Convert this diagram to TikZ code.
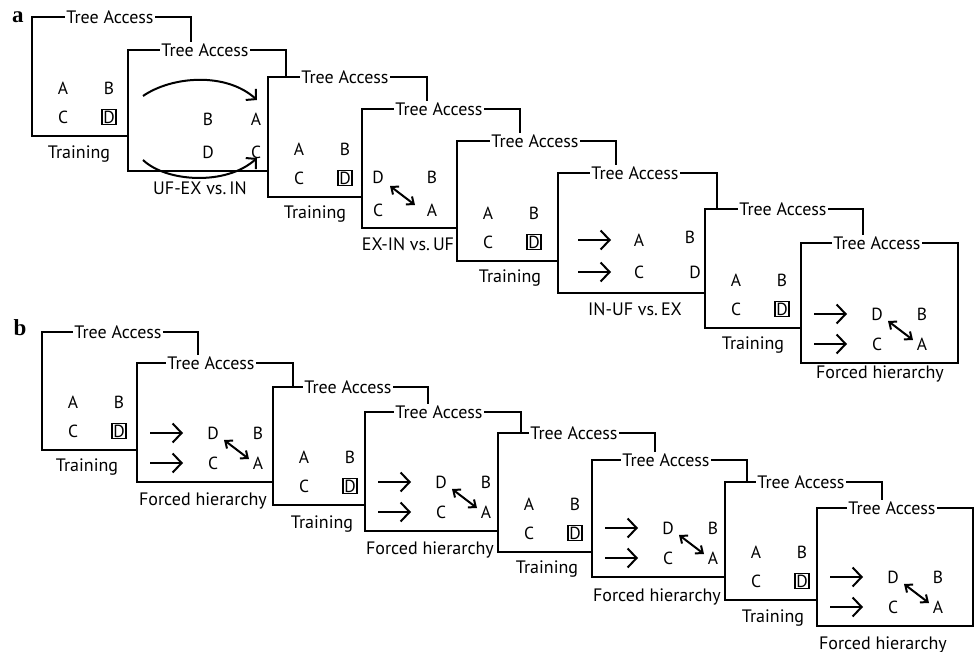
\documentclass[tikz,border=0pt]{standalone}
\usepackage{fontspec}
\setmainfont{PT Sans}
\newfontfamily\lblfont{Liberation Serif}
\usetikzlibrary{arrows.meta}
\tikzset{
  panel/.style={line width=1.8pt, fill=white},
  ta/.style={fill=white, inner sep=1.5pt, font=\fontsize{18}{18}\selectfont},
  lt/.style={inner sep=0pt, font=\fontsize{17.5}{17.5}\selectfont},
  boxd/.style={draw, line width=1.2pt, inner sep=1.2pt},
  lab/.style={anchor=base, inner sep=0pt, font=\fontsize{18}{18}\selectfont},
  farr/.style={line width=2pt, -{Straight Barb[length=9pt,width=19pt]}},
  darr/.style={line width=2pt, {Straight Barb[length=6pt,width=10pt]}-{Straight Barb[length=6pt,width=10pt]}},
  carr/.style={line width=2pt, -{Straight Barb[length=7pt,width=15pt]}},
  sec/.style={font=\lblfont\bfseries\fontsize{23}{23}\selectfont, inner sep=0pt}
}
% name, L, T, R, B, Tree-Access centre x
\newcommand\pnl[6]{%
  \draw[panel] (#2,#3) rectangle (#4,#5);
  \node[ta] (#1t) at (#6,#3) {Tree Access};}
% prefix, L, B, label x, label baseline y
\newcommand\trn[5]{%
  \node[lt] (#1a) at (#2+31,#3-48) {A};
  \node[lt] (#1b) at (#2+77,#3-48) {B};
  \node[lt] (#1c) at (#2+31,#3-19) {C};
  \node[lt,boxd] (#1d) at (#2+77,#3-19) {D};
  \node[lab] (#1l) at (#4,#5) {Training};}
\newcommand\frc[5]{%
  \coordinate (#1s1) at (#2+13,#3-49); \coordinate (#1e1) at (#2+46,#3-49);
  \coordinate (#1s2) at (#2+13,#3-19); \coordinate (#1e2) at (#2+46,#3-19);
  \draw[farr] (#1s1) -- (#1e1);
  \draw[farr] (#1s2) -- (#1e2);
  \node[lt] (#1d) at (#2+76,#3-49) {D};
  \node[lt] (#1b) at (#2+121,#3-49) {B};
  \node[lt] (#1c) at (#2+76,#3-19) {C};
  \node[lt] (#1a) at (#2+121,#3-19) {A};
  \coordinate (#1p) at (#2+87,#3-42); \coordinate (#1q) at (#2+112,#3-23);
  \draw[darr] (#1p) -- (#1q);
  \node[lab] (#1l) at (#4,#5) {Forced hierarchy};}
\begin{document}
\begin{tikzpicture}[x=1pt,y=-1pt]
\useasboundingbox (0,0) rectangle (975,652);
% ---------------- section a ----------------
\node[sec] (la) at (18,17) {a};
\pnl{p1}{32}{17}{191}{136}{110}
\trn{p1}{32}{136}{79}{159}
\pnl{p2}{128}{50}{286}{171}{205}
\node[lt] (p2b) at (208,119) {B};
\node[lt] (p2a) at (256,119) {A};
\node[lt] (p2d) at (208,152) {D};
\node[lt] (p2c) at (256,152) {C};
\coordinate (p2s1) at (143,96); \coordinate (p2e1) at (257,100);
\coordinate (p2s2) at (143,160); \coordinate (p2e2) at (257,158);
\draw[carr] (p2s1) .. controls (172,76) and (226,72) .. (p2e1);
\draw[carr] (p2s2) .. controls (166,182) and (226,186) .. (p2e2);
\node[lab] (p2l) at (200,195) {UF-EX vs.\,IN};
\pnl{p3}{268}{77}{427}{197}{345}
\trn{p3}{268}{197}{315}{219}
\pnl{p4}{362}{109}{520}{228}{439}
\node[lt] (p4d) at (378,177) {D};
\node[lt] (p4b) at (432,177) {B};
\node[lt] (p4c) at (378,210) {C};
\node[lt] (p4a) at (432,210) {A};
\coordinate (p4p) at (390,186); \coordinate (p4q) at (415,205);
\draw[darr] (p4p) -- (p4q);
\node[lab] (p4l) at (408,251) {EX-IN vs.\,UF};
\pnl{p5}{457}{141}{616}{261}{535}
\trn{p5}{457}{261}{510}{283}
\pnl{p6}{558}{173}{717}{293}{635}
\coordinate (p6s1) at (578,240); \coordinate (p6e1) at (611,240);
\coordinate (p6s2) at (578,272); \coordinate (p6e2) at (611,272);
\draw[farr] (p6s1) -- (p6e1);
\draw[farr] (p6s2) -- (p6e2);
\node[lt] (p6a) at (639,240) {A};
\node[lt] (p6b) at (690,237) {B};
\node[lt] (p6c) at (639,272) {C};
\node[lt] (p6d) at (695,272) {D};
\node[lab] (p6l) at (635,316) {IN-UF vs.\,EX};
\pnl{p7}{705}{209}{863}{328}{783}
\trn{p7}{705}{328}{753}{350}
\pnl{p8}{801}{243}{958}{363}{877}
\frc{p8}{801}{363}{880}{379}
% ---------------- section b ----------------
\node[sec] (lb) at (20,328) {b};
\pnl{q1}{42}{332}{198}{450}{118}
\trn{q1}{42}{450}{87}{471}
\pnl{q2}{137}{363}{293}{482}{211}
\frc{q2}{137}{482}{203}{505}
\pnl{q3}{273}{387}{428}{505}{348}
\trn{q3}{273}{505}{322}{528}
\pnl{q4}{365}{412}{521}{531}{439}
\frc{q4}{365}{531}{430}{554}
\pnl{q5}{498}{433}{655}{552}{574}
\trn{q5}{498}{552}{547}{573}
\pnl{q6}{592}{460}{747}{577}{666}
\frc{q6}{592}{577}{657}{601}
\pnl{q7}{725}{482}{882}{600}{801}
\trn{q7}{725}{600}{773}{622}
\pnl{q8}{817}{508}{973}{626}{892}
\frc{q8}{817}{626}{883}{649}
\end{tikzpicture}
\end{document}
